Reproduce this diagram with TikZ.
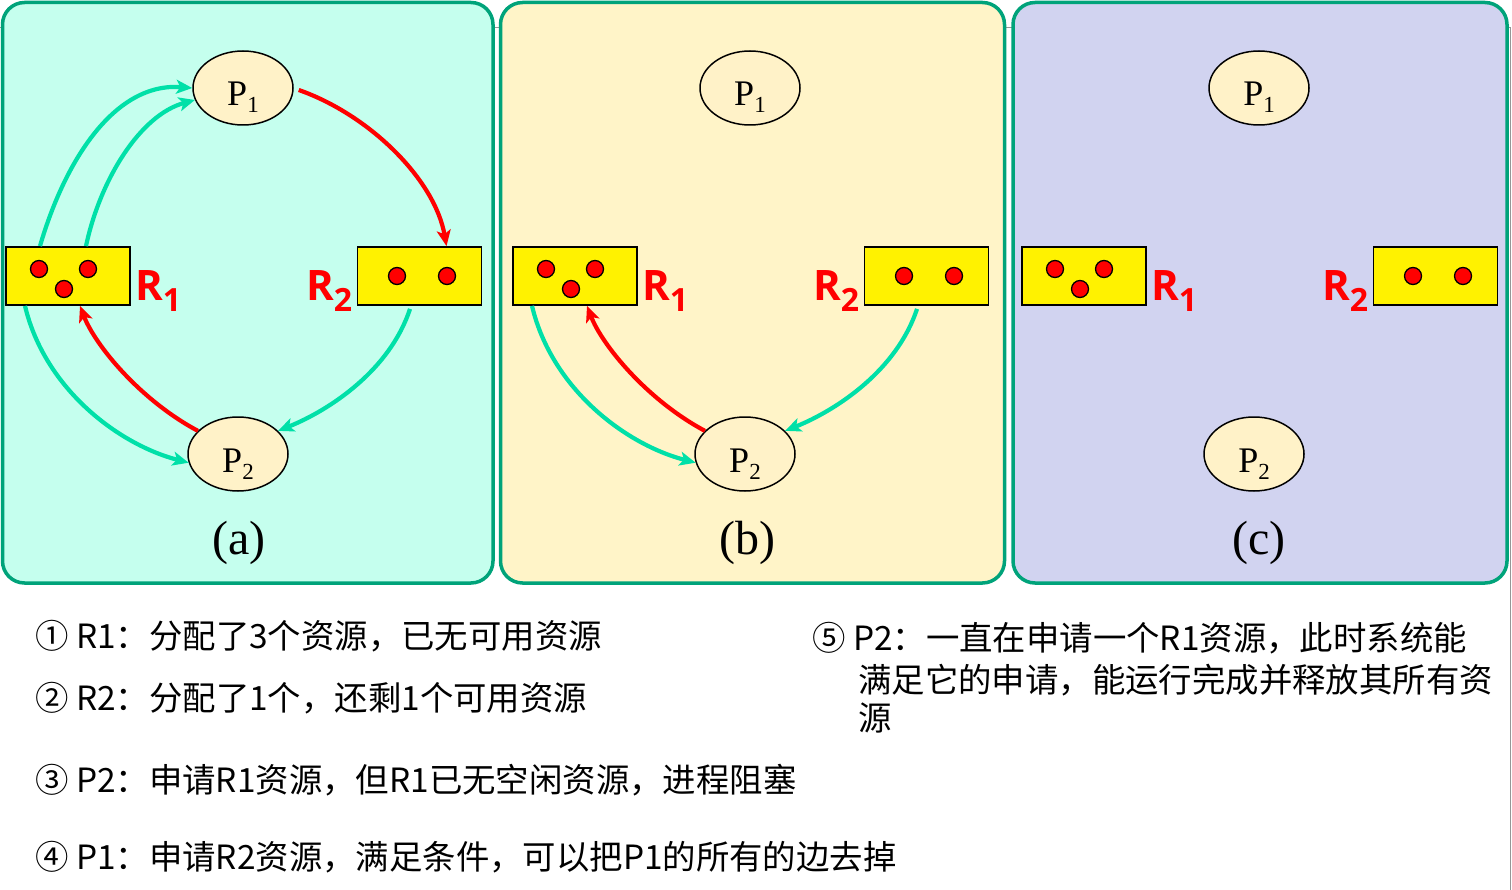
\documentclass[tikz,border=0pt]{standalone}
\usepackage{fontspec}
\setmainfont{Liberation Serif}
\newfontfamily\cjk{Noto Sans CJK SC}
\newfontfamily\rfont{Open Sans}
\usetikzlibrary{arrows.meta,shapes.geometric}
\definecolor{pborder}{RGB}{0,163,122}
\definecolor{pa}{RGB}{197,255,238}
\definecolor{pb}{RGB}{255,244,200}
\definecolor{pc}{RGB}{209,211,240}
\definecolor{pfill}{RGB}{255,242,200}
\definecolor{garrow}{RGB}{0,224,168}
\definecolor{rarrow}{RGB}{255,0,0}
\definecolor{edgegray}{RGB}{150,150,150}
\newcommand\Plab[1]{\fontsize{36}{36}\selectfont P\raisebox{-7pt}{\fontsize{23}{23}\selectfont #1}}
\newcommand\Rlab[1]{{\rfont\bfseries\fontsize{42}{42}\selectfont R\raisebox{-11pt}{\fontsize{32}{32}\selectfont #1}}}
\tikzset{
  panel/.style={draw=pborder, line width=3.5pt, rounded corners=22pt},
  proc/.style={ellipse, draw=black, line width=1.5pt, fill=pfill, minimum width=100pt, minimum height=74pt, inner sep=0pt, text height=36pt, text depth=0pt},
  res/.style={rectangle, draw=black, line width=1.8pt, fill=yellow, minimum width=124pt, minimum height=58pt, inner sep=0pt},
  rdot/.style={circle, draw=black, line width=1.3pt, fill=red, minimum size=17pt, inner sep=0pt},
  rlab/.style={anchor=base west, inner sep=0pt, text=red},
  plabel/.style={inner sep=0pt, font=\fontsize{48}{48}\selectfont},
  garr/.style={draw=garrow, line width=4.2pt, -{Stealth[length=16pt,width=14pt,inset=4pt]}},
  rarr/.style={draw=rarrow, line width=4.2pt, -{Stealth[length=16pt,width=14pt,inset=4pt]}},
  note/.style={anchor=base west, inner sep=0pt, font=\cjk\fontsize{33.4}{33.4}\selectfont},
}
\newcommand\panelnodes[4]{%
  \begin{scope}[xshift=#2pt]
    \node[proc] (P1#1) at (243,88) {\Plab{1}};
    \node[proc] (P2#1) at (238,454) {\Plab{2}};
    \node[res] (R1#1) at (68,276) {};
    \node[res] (R2#1) at (419.5,276) {};
    \node[rdot] (da#1) at (39,269) {};
    \node[rdot] (db#1) at (88,269) {};
    \node[rdot] (dc#1) at (64,289) {};
    \node[rdot] (dd#1) at (397,276) {};
    \node[rdot] (de#1) at (447,276) {};
    \node[rlab] (L1#1) at (135,301) {\Rlab{1}};
    \node[rlab] (L2#1) at (306,301) {\Rlab{2}};
    \node[plabel] (cap#1) at (#4,543) {#3};
  \end{scope}}
\newcommand\lowerarrows[2]{%
  \begin{scope}[xshift=#2pt]
    \draw[garr] ([xshift=-43pt]R1#1.south) .. controls (45,390) and (120,445) .. (P2#1.190);
    \draw[rarr] (P2#1.150) .. controls (140,400) and (95,345) .. ([xshift=12pt]R1#1.south);
    \draw[garr] ([xshift=-9.5pt,yshift=-3pt]R2#1.south) .. controls (390,370) and (330,410) .. (P2#1.30);
  \end{scope}}
\begin{document}
\begin{tikzpicture}[x=1pt,y=-1pt]
  \useasboundingbox (0,0) rectangle (1512,890);
  \fill[white] (0,0) rectangle (1512,890);
  \draw[edgegray, line width=1pt] (0,28) -- (1510.5,28) -- (1510.5,890);
  % panels
  \draw[panel, fill=pa] (2.5,2.5) rectangle (493,583);
  \draw[panel, fill=pb] (500.5,2.5) rectangle (1004.5,583);
  \draw[panel, fill=pc] (1013,2.5) rectangle (1507,583);
  \panelnodes{a}{0}{(a)}{239}
  \panelnodes{b}{507}{(b)}{240}
  \panelnodes{c}{1016}{(c)}{243}
  % panel (a) arrows to and from P1
  \draw[garr] ([xshift=-28pt]R1a.north) .. controls (65,160) and (115,82) .. (P1a.west);
  \draw[garr] ([xshift=18pt]R1a.north) .. controls (100,180) and (140,115) .. (P1a.194);
  \draw[rarr] ([xshift=5pt,yshift=-2pt]P1a.east) .. controls (370,115) and (435,180) .. ([xshift=27pt]R2a.north);
  \lowerarrows{a}{0}
  \lowerarrows{b}{507}
  % notes
  \node[note] (n1) at (35,648) {① R1：分配了3个资源，已无可用资源};
  \node[note] (n2) at (35,710) {② R2：分配了1个，还剩1个可用资源};
  \node[note] (n3) at (35,792) {③ P2：申请R1资源，但R1已无空闲资源，进程阻塞};
  \node[note] (n4) at (35,869) {④ P1：申请R2资源，满足条件，可以把P1的所有的边去掉};
  \node[note] (n5a) at (812,650) {⑤ P2：一直在申请一个R1资源，此时系统能};
  \node[note] (n5b) at (858,692) {满足它的申请，能运行完成并释放其所有资};
  \node[note] (n5c) at (858,730) {源};
\end{tikzpicture}
\end{document}
